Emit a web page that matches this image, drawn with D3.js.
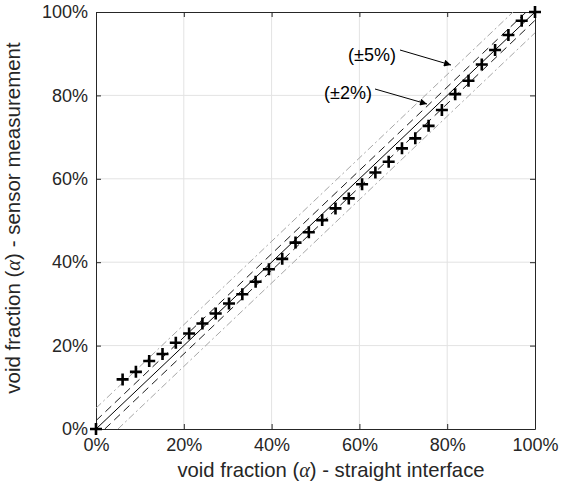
<!DOCTYPE html>
<html>
<head>
<meta charset="utf-8">
<script src="https://cdn.jsdelivr.net/npm/d3@7"></script>
<style>
  html, body { margin: 0; padding: 0; background: #fff; }
  text { font-family: "Liberation Sans", Arial, Helvetica, sans-serif; fill: #262626; }
</style>
</head>
<body>
<svg id="chart" width="571" height="491"></svg>
<script>
// Void fraction: straight-interface reference (x) vs. sensor measurement (y), in %
const refFraction = [0, 6.06, 9.09, 12.12, 15.15, 18.18, 21.21, 24.24, 27.27, 30.30,
  33.33, 36.36, 39.39, 42.42, 45.45, 48.48, 51.52, 54.55, 57.58, 60.61,
  63.64, 66.67, 69.70, 72.73, 75.76, 78.79, 81.82, 84.85, 87.88, 90.91,
  93.94, 96.97, 100];
const sensorFraction = [0, 11.9, 13.7, 16.3, 18.0, 20.7, 22.9, 25.3, 27.7, 30.1,
  32.3, 35.3, 38.3, 40.8, 44.7, 47.2, 50.1, 52.9, 55.3, 58.7,
  61.5, 64.1, 67.3, 69.7, 72.7, 76.5, 80.3, 83.5, 87.4, 90.9,
  94.5, 97.9, 100];
const tickValues = [0, 20, 40, 60, 80, 100];
const tolerances = [2, 5];
const toleranceLabels = ["(\u00b12%)", "(\u00b15%)"];

const svg = d3.select("#chart");
const margin = { left: 96, right: 36, top: 12, bottom: 62 };
const W = 571, H = 491;
const x = d3.scaleLinear().domain([0, 100]).range([margin.left, W - margin.right]);
const y = d3.scaleLinear().domain([0, 100]).range([H - margin.bottom, margin.top]);
const pct = d => d + "%";

// grid
const grid = svg.append("g");
grid.selectAll(".gx").data(tickValues.slice(1, -1)).join("line")
  .attr("x1", d => x(d)).attr("x2", d => x(d))
  .attr("y1", y(0)).attr("y2", y(100))
  .attr("stroke", "#e3e3e3").attr("stroke-width", 1);
grid.selectAll(".gy").data(tickValues.slice(1, -1)).join("line")
  .attr("y1", d => y(d)).attr("y2", d => y(d))
  .attr("x1", x(0)).attr("x2", x(100))
  .attr("stroke", "#e3e3e3").attr("stroke-width", 1);

// axes (ticks pointing inward, box on all sides)
const axisStyle = g => {
  g.select(".domain").attr("stroke", "#262626").attr("stroke-width", 1);
  g.selectAll(".tick line").attr("stroke", "#262626");
  g.selectAll(".tick text").attr("font-size", 18).attr("fill", "#262626")
    .attr("font-family", "Liberation Sans, Arial, sans-serif");
};
svg.append("g").attr("transform", `translate(0,${y(0)})`)
  .call(d3.axisBottom(x).tickValues(tickValues).tickFormat(pct).tickSizeInner(-5).tickSizeOuter(0).tickPadding(9))
  .call(axisStyle);
svg.append("g").attr("transform", `translate(${x(0)},0)`)
  .call(d3.axisLeft(y).tickValues(tickValues).tickFormat(pct).tickSizeInner(-5).tickSizeOuter(0).tickPadding(8))
  .call(axisStyle);
svg.append("g").attr("transform", `translate(0,${y(100)})`)
  .call(d3.axisTop(x).tickValues(tickValues).tickFormat("").tickSizeInner(-5).tickSizeOuter(0))
  .call(axisStyle);
svg.append("g").attr("transform", `translate(${x(100)},0)`)
  .call(d3.axisRight(y).tickValues(tickValues).tickFormat("").tickSizeInner(-5).tickSizeOuter(0))
  .call(axisStyle);

// identity line and tolerance bands
const lines = svg.append("g").attr("fill", "none");
lines.append("line")
  .attr("x1", x(0)).attr("y1", y(0)).attr("x2", x(100)).attr("y2", y(100))
  .attr("stroke", "#000").attr("stroke-width", 1);
const bandStyle = {
  2: { stroke: "#1a1a1a", dash: "8,5" },
  5: { stroke: "#a6a6a6", dash: "7,3,2,3" }
};
tolerances.forEach(t => {
  const s = bandStyle[t];
  [[0, t, 100 - t, 100], [t, 0, 100, 100 - t]].forEach(([x0, y0, x1, y1]) => {
    lines.append("line")
      .attr("x1", x(x0)).attr("y1", y(y0)).attr("x2", x(x1)).attr("y2", y(y1))
      .attr("stroke", s.stroke).attr("stroke-width", 1)
      .attr("stroke-dasharray", s.dash);
  });
});

// measurement markers
const m = 6;
svg.append("g").selectAll("path")
  .data(refFraction.map((v, i) => [v, sensorFraction[i]]))
  .join("path")
  .attr("d", d => `M${x(d[0]) - m},${y(d[1])}H${x(d[0]) + m}M${x(d[0])},${y(d[1]) - m}V${y(d[1]) + m}`)
  .attr("stroke", "#000").attr("stroke-width", 2.6).attr("fill", "none");

// tolerance annotations
svg.append("defs").append("marker")
  .attr("id", "arrow").attr("viewBox", "0 0 10 10")
  .attr("refX", 10).attr("refY", 5)
  .attr("markerWidth", 11).attr("markerHeight", 7)
  .attr("markerUnits", "userSpaceOnUse")
  .attr("orient", "auto")
  .append("path").attr("d", "M0,0L10,5L0,10Z").attr("fill", "#000");

const notes = [
  { label: toleranceLabels[1], tx: 372, ty: 55, from: [400, 50], to: [451, 65] },
  { label: toleranceLabels[0], tx: 348, ty: 93, from: [375, 89], to: [427, 104] }
];
notes.forEach(n => {
  svg.append("text").attr("x", n.tx).attr("y", n.ty)
    .attr("text-anchor", "middle").attr("dominant-baseline", "central")
    .attr("font-size", 18).attr("fill", "#000").style("fill", "#000").text(n.label);
  svg.append("line")
    .attr("x1", n.from[0]).attr("y1", n.from[1]).attr("x2", n.to[0]).attr("y2", n.to[1])
    .attr("stroke", "#000").attr("stroke-width", 1).attr("marker-end", "url(#arrow)");
});

// axis titles with italic alpha
function title(sel, before, after) {
  sel.append("tspan").text(before);
  sel.append("tspan").attr("font-family", "Liberation Serif, serif").attr("font-style", "italic").text("\u03b1");
  sel.append("tspan").text(after);
}
svg.append("text").attr("x", 331).attr("y", 477)
  .attr("text-anchor", "middle").attr("font-size", 20.3)
  .call(title, "void fraction (", ") - straight interface");
svg.append("text")
  .attr("transform", `translate(20,218) rotate(-90)`)
  .attr("text-anchor", "middle").attr("font-size", 20.5)
  .call(title, "void fraction (", ") - sensor measurement");
</script>
</body>
</html>
